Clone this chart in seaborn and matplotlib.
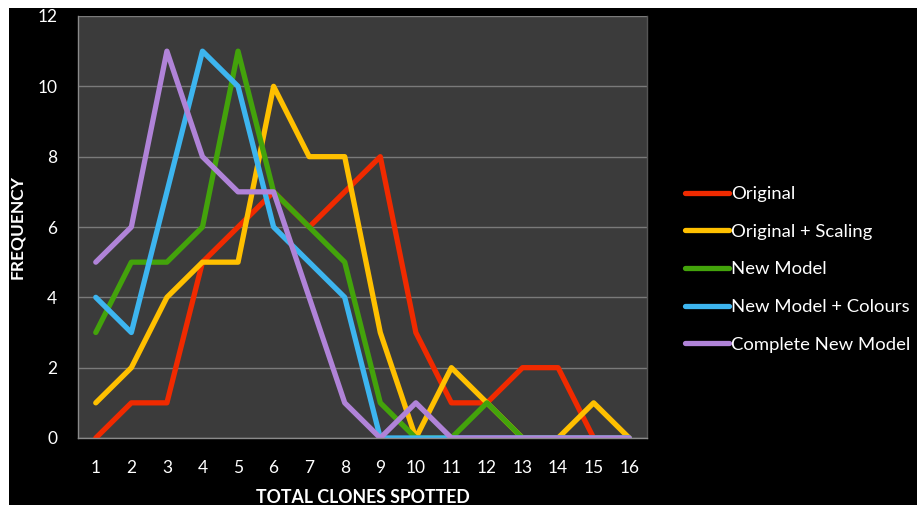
import matplotlib
matplotlib.use("Agg")
import matplotlib.pyplot as plt
from matplotlib.patches import Rectangle
import seaborn as sns
import pandas as pd

clones = list(range(1, 17))
original = [0, 1, 1, 5, 6, 7, 6, 7, 8, 3, 1, 1, 2, 2, 0, 0]
original_scaling = [1, 2, 4, 5, 5, 10, 8, 8, 3, 0, 2, 1, 0, 0, 1, 0]
new_model = [3, 5, 5, 6, 11, 7, 6, 5, 1, 0, 0, 1, 0, 0, 0, 0]
new_model_colours = [4, 3, 7, 11, 10, 6, 5, 4, 0, 0, 0, 0, 0, 0, 0, 0]
complete_new_model = [5, 6, 11, 8, 7, 7, 4, 1, 0, 1, 0, 0, 0, 0, 0, 0]

series_names = ["Original", "Original + Scaling", "New Model",
                "New Model + Colours", "Complete New Model"]
series_values = [original, original_scaling, new_model,
                 new_model_colours, complete_new_model]
colors = ["#F02A00", "#FFC000", "#43A30B", "#3DB5EF", "#B083D8"]

rows = []
for name, vals in zip(series_names, series_values):
    for x, v in zip(clones, vals):
        rows.append({"clones": x, "freq": v, "series": name})
df = pd.DataFrame(rows)

sns.set_style("dark")
plt.rcParams["font.family"] = ["Lato", "DejaVu Sans"]

fig = plt.figure(figsize=(9.17, 5.07), dpi=100)
fig.patch.set_facecolor("white")
fig.add_artist(Rectangle((9 / 917, 2 / 507), 1.0, (507 - 8 - 2) / 507,
                         transform=fig.transFigure, facecolor="black",
                         edgecolor="none", zorder=-10))

ax = fig.add_axes([78 / 917, 69 / 507, 569 / 917, 422 / 507])
ax.set_facecolor("#3B3B3B")

sns.lineplot(data=df, x="clones", y="freq", hue="series",
             hue_order=series_names, palette=colors, linewidth=3.8,
             ax=ax, legend=True)

ax.set_xlim(0.5, 16.5)
ax.set_ylim(0, 12)
ax.set_yticks(range(0, 13, 2))
ax.set_xticks(clones)
ax.set_xticks([i + 0.5 for i in range(0, 17)], minor=True)
ax.grid(False)
ax.yaxis.grid(True, color="#7A7A7A", linewidth=1.0)
ax.set_axisbelow(True)

ax.spines["top"].set_visible(False)
ax.spines["right"].set_visible(True)
ax.spines["right"].set_color("#555555")
ax.spines["right"].set_linewidth(1.0)
for s in ["left", "bottom"]:
    ax.spines[s].set_visible(True)
    ax.spines[s].set_color("#8A8A8A")
    ax.spines[s].set_linewidth(1.0)

ax.tick_params(axis="x", which="major", length=0, pad=16, labelsize=12.5,
               labelcolor="white")
ax.tick_params(axis="x", which="minor", length=5, width=1, color="#8A8A8A",
               direction="out")
ax.tick_params(axis="y", which="major", length=5, width=1, color="#8A8A8A",
               direction="out", pad=10, labelsize=12.5, labelcolor="white")

ax.set_xlabel("TOTAL CLONES SPOTTED", color="white", fontsize=12.8,
              fontweight="bold", labelpad=9)
ax.set_ylabel("FREQUENCY", color="white", fontsize=12.5, fontweight="bold",
              labelpad=9)

handles, labels = ax.get_legend_handles_labels()
ax.get_legend().remove()
for h in handles:
    h.set_linewidth(3.8)
fig.legend(handles, labels, loc="center left",
           bbox_to_anchor=(685 / 917, 1 - 269.5 / 507),
           frameon=False, fontsize=13.3, labelcolor="white",
           handlelength=2.4, handletextpad=0.1, labelspacing=1.17,
           borderpad=0, borderaxespad=0)

fig.savefig("out.png", dpi=100, facecolor=fig.get_facecolor())
